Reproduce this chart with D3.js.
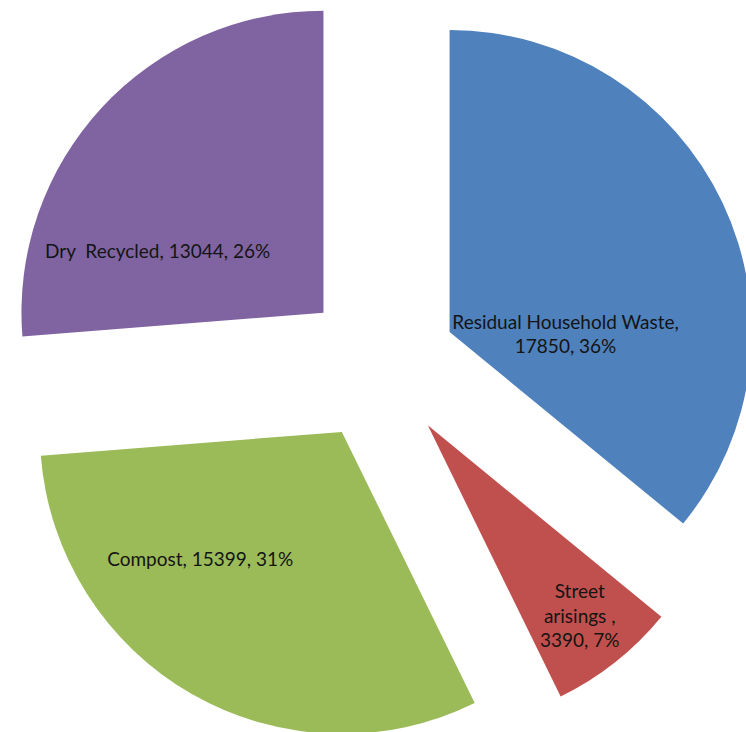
<!DOCTYPE html>
<html>
<head>
<meta charset="utf-8">
<script src="https://cdn.jsdelivr.net/npm/d3@7"></script>
<style>
  html, body { margin: 0; padding: 0; background: #ffffff; }
  svg { display: block; }
</style>
</head>
<body>
<div id="chart"></div>
<script>
// Household waste streams (tonnes)
const categories = ["Residual Household Waste", "Street arisings", "Compost", "Dry  Recycled"];
const values = [17850, 3390, 15399, 13044];
const percents = ["36%", "7%", "31%", "26%"];
// Label text, broken into lines as shown on each slice
const labelLines = [
  ["Residual Household Waste,", "17850, 36%"],
  ["Street", "arisings ,", "3390, 7%"],
  ["Compost, 15399, 31%"],
  ["Dry  Recycled, 13044, 26%"]
];
const colors = ["#4f81bd", "#c0504d", "#9bbb59", "#8064a2"];

// Label placement: angle (degrees clockwise from 12 o'clock) and distance from the slice apex
const labelAngle = [90.7, 141.3, 228.2, 290.5];
const labelRadius = [116, 243, 190, 177];

const width = 746, height = 732;
const cx = 380, cy = 365;   // centre of the un-exploded pie
const radius = 302;
const explode = 77;
const lineHeight = 24.5;

const svg = d3.select("#chart").append("svg")
  .attr("width", width)
  .attr("height", height);

const pie = d3.pie().sort(null).value(d => d);
const arcs = pie(values);
const arc = d3.arc().innerRadius(0).outerRadius(radius);

const slices = svg.selectAll("g.slice")
  .data(arcs)
  .join("g")
  .attr("class", "slice")
  .attr("transform", d => {
    const mid = (d.startAngle + d.endAngle) / 2;
    const x = cx + Math.sin(mid) * explode;
    const y = cy - Math.cos(mid) * explode;
    return `translate(${x},${y})`;
  });

slices.append("path")
  .attr("d", arc)
  .attr("fill", (d, i) => colors[i]);

slices.append("text")
  .attr("font-family", "Lato, 'Liberation Sans', sans-serif")
  .attr("font-size", 19)
  .attr("fill", "#141414")
  .attr("text-anchor", "middle")
  .style("white-space", "pre")
  .each(function (d, i) {
    const a = labelAngle[i] * Math.PI / 180;
    const x = Math.sin(a) * labelRadius[i];
    const y = -Math.cos(a) * labelRadius[i];
    const lines = labelLines[i];
    const top = y - (lines.length - 1) * lineHeight / 2;
    d3.select(this).selectAll("tspan")
      .data(lines)
      .join("tspan")
      .attr("x", x)
      .attr("y", (t, k) => top + k * lineHeight)
      .attr("dominant-baseline", "central")
      .text(t => t);
  });
</script>
</body>
</html>
